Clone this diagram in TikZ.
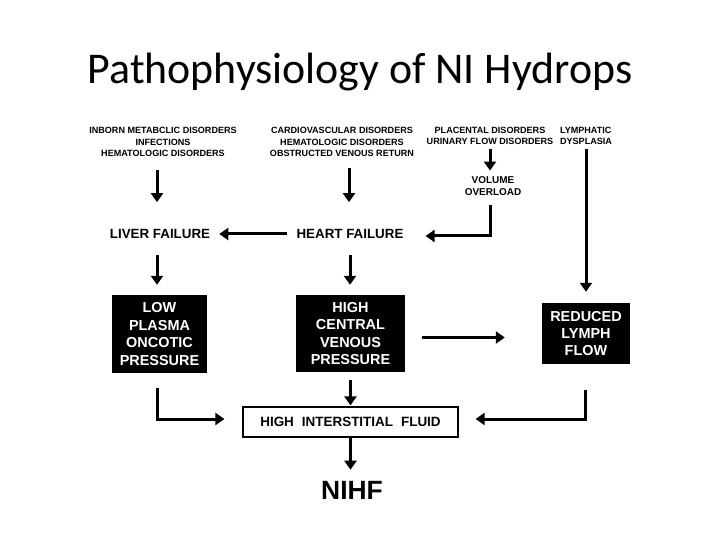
\documentclass[tikz,border=0pt]{standalone}
\usepackage{fontspec}
\setmainfont{Liberation Sans}
\newfontfamily\titlefont{Carlito}
\usetikzlibrary{arrows.meta,positioning}

\begin{document}
\begin{tikzpicture}[x=1bp,y=-1bp,
    cause/.style={font=\bfseries\fontsize{9.1}{11.5}\selectfont, align=center, inner sep=0pt},
    state/.style={font=\bfseries\fontsize{13.4}{15}\selectfont, inner sep=0pt},
    darkbox/.style={fill=black, text=white, font=\bfseries\fontsize{14.5}{17.5}\selectfont, align=center, inner sep=0pt},
    flow/.style={-{Triangle[length=9bp,width=12bp]}, line width=3bp}]

  \useasboundingbox (0,0) rectangle (720,540);

  % Title
  \node[font=\titlefont\fontsize{44}{52}\selectfont] (title) at (360,72) {Pathophysiology of NI Hydrops};

  % Causes
  \node[cause] (inborn) at (163,142) {INBORN METABCLIC DISORDERS\\INFECTIONS\\HEMATOLOGIC DISORDERS};
  \node[cause] (cardio) at (342,142) {CARDIOVASCULAR DISORDERS\\HEMATOLOGIC DISORDERS\\OBSTRUCTED VENOUS RETURN};
  \node[cause] (placental) at (490,136) {PLACENTAL DISORDERS\\URINARY FLOW DISORDERS};
  \node[cause, align=left] (lymphatic) at (586,136) {LYMPHATIC\\DYSPLASIA};
  \node[cause, font=\bfseries\fontsize{10}{11.5}\selectfont] (volume) at (493,186) {VOLUME\\OVERLOAD};

  % Failures
  \node[state] (liver) at (160,234) {LIVER FAILURE};
  \node[state] (heart) at (350,234) {HEART FAILURE};

  % Boxes
  \node[darkbox, minimum width=95bp, minimum height=78bp] (plasma) at (159.5,334) {LOW\\PLASMA\\ONCOTIC\\PRESSURE};
  \node[darkbox, minimum width=109bp, minimum height=77bp] (venous) at (350.5,333.5) {HIGH\\CENTRAL\\VENOUS\\PRESSURE};
  \node[darkbox, minimum width=88bp, minimum height=61bp] (lymph) at (586,333.5) {REDUCED\\LYMPH\\FLOW};
  \node[draw, line width=1.2bp, minimum width=215bp, minimum height=30bp, inner sep=0pt,
        font=\bfseries\fontsize{13.5}{15}\selectfont] (fluid) at (350.5,422) {HIGH\hspace{8bp}INTERSTITIAL\hspace{8bp}FLUID};
  \node[font=\bfseries\fontsize{26.5}{30}\selectfont, inner sep=0pt] (nihf) at (352,490) {NIHF};

  % Connections
  \draw[flow, shorten <=13bp, shorten >=27bp] ([xshift=-3bp]liver.north |- inborn.south) -- ([xshift=-3bp]liver.north);
  \draw[flow, shorten <=11bp, shorten >=27bp] ([xshift=-1bp]heart.north |- cardio.south) -- ([xshift=-1bp]heart.north);
  \draw[flow, shorten <=4bp, shorten >=6bp] ([xshift=-3bp]volume.north |- placental.south) -- ([xshift=-3bp]volume.north);
  \draw[flow, shorten <=10bp, shorten >=22bp] ([xshift=-3bp]volume.south) |- ([yshift=-2bp]heart.east);
  \draw[flow, shorten <=9bp, shorten >=9bp] (heart.west) -- (liver.east);
  \draw[flow, shorten <=16bp, shorten >=10bp] ([xshift=-3bp]liver.south) -- ([xshift=-3bp]liver.south |- plasma.north);
  \draw[flow, shorten <=16bp, shorten >=10bp] (heart.south) -- (heart.south |- venous.north);
  \draw[flow, shorten <=4bp, shorten >=11bp] (lymph.north |- lymphatic.south) -- (lymph.north);
  \draw[flow, shorten <=17bp, shorten >=37bp] ([yshift=-4bp]venous.east) -- ([yshift=-4bp]lymph.west);
  \draw[flow, shorten <=8bp, shorten >=1bp] (venous.south) -- (venous.south |- fluid.north);
  \draw[flow, shorten <=15bp, shorten >=18bp] ([xshift=-2bp]plasma.south) |- ([yshift=3bp]fluid.west);
  \draw[flow, shorten <=26bp, shorten >=17bp] ([xshift=-1bp]lymph.south) |- ([yshift=3bp]fluid.east);
  \draw[flow, shorten >=11bp] (fluid.south) -- (fluid.south |- nihf.north);
\end{tikzpicture}
\end{document}
